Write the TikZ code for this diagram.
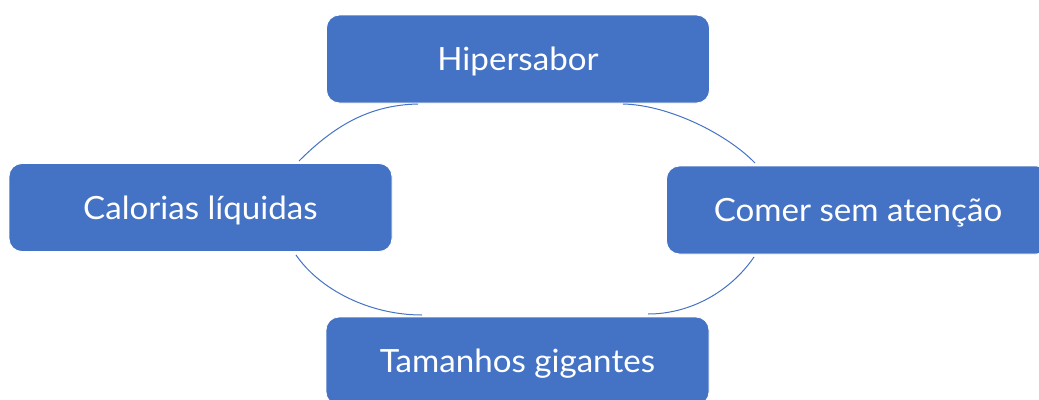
\documentclass[tikz,border=0pt]{standalone}
\usepackage{fontspec}
\setmainfont{Lato}[FakeStretch=1.035]
\definecolor{boxblue}{HTML}{4472C4}
\begin{document}
\begin{tikzpicture}[x=1pt,y=-1pt,
  box/.style={rectangle, rounded corners=13pt, fill=boxblue, draw=white, line width=0.8pt,
    minimum width=383pt, minimum height=88pt, text=white, inner sep=0pt,
    font=\fontsize{32}{38}\selectfont, text height=23pt, text depth=0pt},
  cyclearc/.style={draw=boxblue, line width=1pt}]
\useasboundingbox (0,0) rectangle (1039,399);
\clip (0,0) rectangle (1039,399);
\node[box] (hip) at (518,59) {Hipersabor};
\node[box] (cal) at (200.5,207.5) {Calorias líquidas};
\node[box] (com) at (858,210) {Comer sem atenção};
\node[box] (tam) at (517.5,361) {Tamanhos gigantes};
\coordinate (a1s) at (299,161);
\coordinate (a1e) at (418,104);
\coordinate (a2s) at (623,104);
\coordinate (a2e) at (755,163);
\coordinate (a3s) at (754,257);
\coordinate (a3e) at (648,314);
\coordinate (a4s) at (422,315);
\coordinate (a4e) at (296,255);
\draw[cyclearc] (a1s) .. controls (335,125) and (370,105) .. (a1e);
\draw[cyclearc] (a2s) .. controls (670,105) and (728,135) .. (a2e);
\draw[cyclearc] (a3s) .. controls (730,292) and (690,314) .. (a3e);
\draw[cyclearc] (a4s) .. controls (370,315) and (320,290) .. (a4e);
\end{tikzpicture}
\end{document}
